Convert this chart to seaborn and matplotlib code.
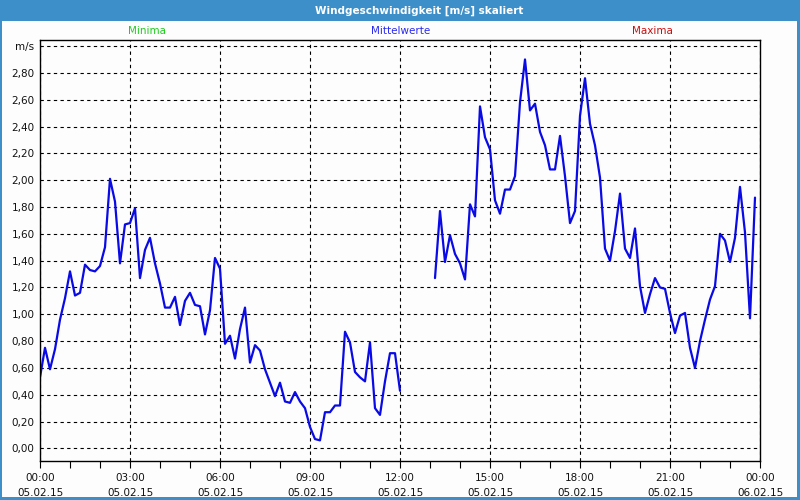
import numpy as np
import pandas as pd
import matplotlib
matplotlib.use("Agg")
import matplotlib.pyplot as plt
from matplotlib.patches import Rectangle
import seaborn as sns

# ---------------- data (10-minute means, 05.02.15) ----------------
speed = [
    0.53, 0.75, 0.59, 0.74, 0.96, 1.12, 1.32, 1.14, 1.16, 1.37,
    1.33, 1.32, 1.36, 1.50, 2.01, 1.84, 1.38, 1.67, 1.68, 1.79,
    1.27, 1.48, 1.57, 1.38, 1.23, 1.05, 1.05, 1.13, 0.92, 1.10,
    1.16, 1.07, 1.06, 0.85, 1.03, 1.42, 1.34, 0.78, 0.84, 0.67,
    0.89, 1.05, 0.64, 0.77, 0.73, 0.59, 0.49, 0.39, 0.49, 0.35,
    0.34, 0.42, 0.35, 0.30, 0.16, 0.07, 0.06, 0.27, 0.27, 0.32,
    0.32, 0.87, 0.79, 0.57, 0.53, 0.50, 0.79, 0.30, 0.25, 0.50,
    0.71, 0.71, 0.43, None, None, None, None, None, None, 1.27,
    1.77, 1.39, 1.59, 1.45, 1.38, 1.26, 1.82, 1.73, 2.55, 2.32,
    2.23, 1.85, 1.75, 1.93, 1.93, 2.03, 2.58, 2.90, 2.52, 2.57,
    2.36, 2.26, 2.08, 2.08, 2.33, 2.03, 1.68, 1.77, 2.48, 2.76,
    2.42, 2.26, 2.02, 1.49, 1.40, 1.62, 1.90, 1.49, 1.42, 1.64,
    1.21, 1.01, 1.15, 1.27, 1.20, 1.19, 1.01, 0.86, 0.99, 1.01,
    0.75, 0.60, 0.80, 0.96, 1.11, 1.21, 1.60, 1.55, 1.39, 1.57,
    1.95, 1.61, 0.97, 1.87,
]
step_minutes = 10
x_tick_hours = [0, 3, 6, 9, 12, 15, 18, 21, 24]
x_tick_labels = ["00:00\n05.02.15", "03:00\n05.02.15", "06:00\n05.02.15",
                 "09:00\n05.02.15", "12:00\n05.02.15", "15:00\n05.02.15",
                 "18:00\n05.02.15", "21:00\n05.02.15", "00:00\n06.02.15"]
y_ticks = [0.0, 0.2, 0.4, 0.6, 0.8, 1.0, 1.2, 1.4, 1.6, 1.8, 2.0, 2.2, 2.4, 2.6, 2.8, 3.0]
y_tick_labels = ["0,00", "0,20", "0,40", "0,60", "0,80", "1,00", "1,20", "1,40",
                 "1,60", "1,80", "2,00", "2,20", "2,40", "2,60", "2,80", "m/s"]
title = "Windgeschwindigkeit [m/s] skaliert"
legend_items = ["Minima", "Mittelwerte", "Maxima"]
legend_colors = ["#1fcc1f", "#2a2af0", "#c81010"]

# ---------------- build frame ----------------
hours = np.arange(len(speed)) * step_minutes / 60.0
vals = np.array([np.nan if v is None else v for v in speed], dtype=float)
seg = np.cumsum(np.isnan(vals))  # new unit after each gap
df = pd.DataFrame({"hour": hours, "speed": vals, "seg": seg}).dropna()

# ---------------- style ----------------
sns.set_theme(style="white")
plt.rcParams["font.family"] = ["DejaVu Sans"]
bg = "#fcfdfc"
bar_color = "#3d8fc9"
W, H = 800, 500

fig = plt.figure(figsize=(8, 5), dpi=100, facecolor=bg)
ax = fig.add_axes([40 / W, 1 - 460.5 / H, 720 / W, 420.5 / H])
ax.set_facecolor(bg)

sns.lineplot(data=df, x="hour", y="speed", units="seg", estimator=None,
             color="#0a0ae6", linewidth=1.6, ax=ax, legend=False)

ax.set_xlim(0, 24)
ax.set_ylim(-0.09, 3.045)
ax.set_xticks(x_tick_hours)
ax.set_xticklabels(x_tick_labels, fontsize=7.5, color="#111111", linespacing=1.6)
ax.set_xticks(np.arange(0, 25, 1), minor=True)
ax.set_yticks(y_ticks)
ax.set_yticklabels(y_tick_labels, fontsize=7.5, color="#111111")
ax.set_xlabel("")
ax.set_ylabel("")
ax.tick_params(axis="x", which="both", direction="out", length=5, width=0.8,
               color="black", bottom=True, pad=4)
ax.tick_params(axis="y", which="both", length=0, pad=4)

ax.grid(True, which="major", color="black", linestyle=(0, (3, 3)), linewidth=0.8)
for s in ax.spines.values():
    s.set_color("black")
    s.set_linewidth(1.0)

# title bar and window border
fig.patches.append(Rectangle((0, 1 - 21 / H), 1, 21 / H, transform=fig.transFigure,
                             facecolor=bar_color, edgecolor="none", zorder=-1))
fig.text(419 / W, 1 - 10.5 / H, title, color="white", fontsize=7.5,
         fontweight="bold", ha="center", va="center")
fig.patches.append(Rectangle((0, 0), 2 / W, 1, transform=fig.transFigure,
                             facecolor=bar_color, edgecolor="none"))
fig.patches.append(Rectangle((1 - 3 / W, 0), 3 / W, 1, transform=fig.transFigure,
                             facecolor=bar_color, edgecolor="none"))
fig.patches.append(Rectangle((0, 0), 1, 3 / H, transform=fig.transFigure,
                             facecolor=bar_color, edgecolor="none"))

# series labels above the plot
for txt, col, xp in zip(legend_items, legend_colors, [147, 401, 652]):
    fig.text(xp / W, 1 - 31.5 / H, txt, color=col, fontsize=7.5,
             ha="center", va="center")

fig.savefig("out.png", dpi=100, facecolor=bg)
